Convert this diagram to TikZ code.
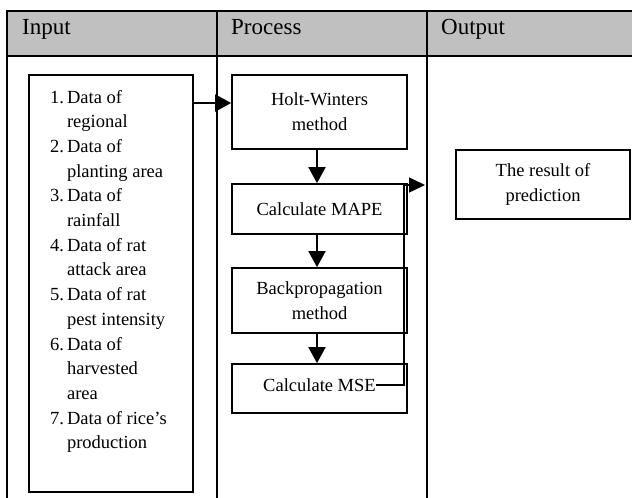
\documentclass[tikz,border=0pt]{standalone}
\usepackage{fontspec}
\setmainfont{Liberation Serif}
\usetikzlibrary{arrows.meta}
\definecolor{hdrgray}{RGB}{192,192,192}
\begin{document}
\begin{tikzpicture}[x=1pt,y=-1pt,
  tbl/.style={line width=2.3pt},
  hdr/.style={font=\fontsize{23}{27}\selectfont, anchor=base west, inner sep=0pt},
  bodyfont/.style={font=\fontsize{18.5}{24.7}\selectfont},
  stepbox/.style={draw, line width=1.7pt, bodyfont, align=center, inner sep=0pt, minimum width=175pt},
  arr/.style={line width=1.9pt, -{Triangle[length=16pt,width=17pt]}},
  fb/.style={line width=1.5pt, -{Triangle[length=16pt,width=15pt]}}
]
\useasboundingbox (0,0) rectangle (632,498);
% table
\fill[hdrgray] (6,11) rectangle (632,56);
\draw[tbl] (6,11) -- (632,11);
\draw[tbl] (6,56) -- (632,56);
\draw[tbl] (7,10) -- (7,498);
\draw[tbl] (217,10) -- (217,498);
\draw[tbl] (427,10) -- (427,498);
\node[hdr] (hin) at (22,34) {Input};
\node[hdr] (hpr) at (231,34) {Process};
\node[hdr] (hout) at (441,34) {Output};
% input box
\node[draw, line width=1.7pt, minimum width=164pt, minimum height=417pt, inner sep=0pt] (inbox) at (111,283.5) {};
\node[bodyfont, anchor=base west, inner sep=0pt] (inlist) at (50,103) {%
\begin{tabular}[t]{@{}l@{\hspace{3pt}}l@{}}
1. & Data of\\
   & regional\\
2. & Data of\\
   & planting area\\
3. & Data of\\
   & rainfall\\
4. & Data of rat\\
   & attack area\\
5. & Data of rat\\
   & pest intensity\\
6. & Data of\\
   & harvested\\
   & area\\
7. & Data of rice’s\\
   & production
\end{tabular}};
% process boxes
\node[stepbox, minimum height=74pt] (hw) at (319.5,112) {Holt-Winters\\method};
\node[stepbox, minimum height=50pt] (mape) at (319.5,209) {Calculate MAPE};
\node[stepbox, minimum height=65pt] (bp) at (319.5,300.5) {Backpropagation\\method};
\node[draw, line width=1.7pt, minimum width=175pt, minimum height=49pt, inner sep=0pt] (mse) at (319.5,388.5) {};
\node[bodyfont, inner sep=0pt] (msetext) at (319.5,385) {Calculate MSE};
% output box
\node[draw, line width=1.7pt, bodyfont, align=center, inner sep=0pt, minimum width=174pt, minimum height=69pt] (outbox) at (543,184.5) {The result of\\prediction};
% connectors
\coordinate (ina) at (193,103);
\draw[arr] (ina) -- (ina -| hw.west);
\draw[arr] (hw.south -| 317,0) -- (mape.north -| 317,0);
\draw[arr] (mape.south -| 317,0) -- (bp.north -| 317,0);
\draw[arr] (bp.south -| 317,0) -- (mse.north -| 317,0);
\coordinate (outa) at (425,185);
\draw[fb] (msetext.east) -- ++(28,0) |- (outa);
\end{tikzpicture}
\end{document}
